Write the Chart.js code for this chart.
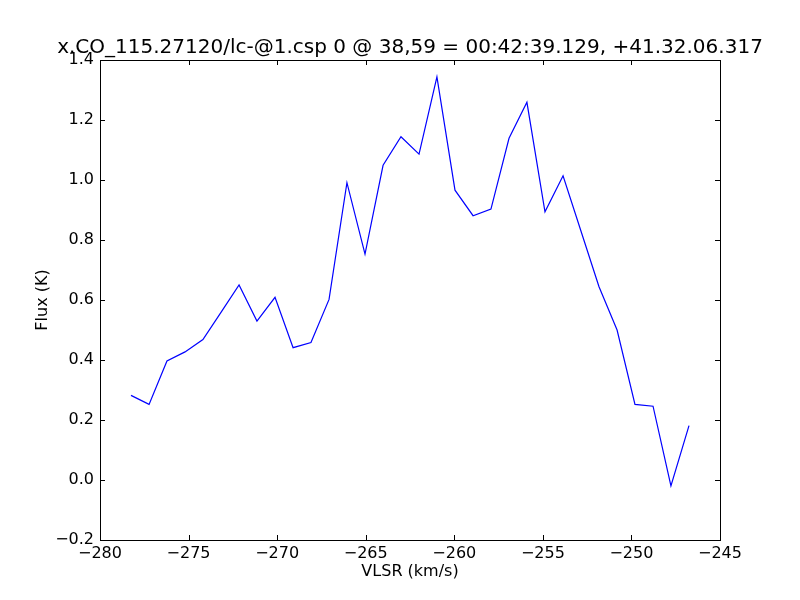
<!DOCTYPE html>
<html>
<head>
<meta charset="utf-8">
<script src="https://cdn.jsdelivr.net/npm/chart.js@4/dist/chart.umd.min.js"></script>
<style>
    html, body { margin: 0; padding: 0; background: #fff; }
    canvas { display: block; }
</style>
</head>
<body>
<canvas id="fluxChart" width="800" height="600"></canvas>
<script>
"use strict";

const chartTitle = 'x.CO_115.27120/lc-@1.csp 0 @ 38,59 = 00:42:39.129, +41.32.06.317';
const xLabel = 'VLSR (km/s)';
const yLabel = 'Flux (K)';

// velocity channels (km/s)
const velocities = [
    -278.25, -277.23, -276.22, -275.20, -274.19, -273.17, -272.15, -271.14,
    -270.12, -269.10, -268.09, -267.07, -266.06, -265.04, -264.02, -263.01,
    -261.99, -260.98, -259.96, -258.94, -257.93, -256.91, -255.90, -254.88,
    -253.86, -252.85, -251.83, -250.81, -249.80, -248.78, -247.77, -246.75
];
// flux per channel (K)
const fluxes = [
    0.282, 0.252, 0.397, 0.427, 0.468, 0.559, 0.650, 0.530,
    0.609, 0.441, 0.458, 0.602, 0.991, 0.753, 1.049, 1.144,
    1.086, 1.344, 0.966, 0.881, 0.903, 1.139, 1.259, 0.894,
    1.014, 0.830, 0.644, 0.500, 0.252, 0.246, -0.020, 0.181
];

const xTicks = [-280, -275, -270, -265, -260, -255, -250, -245];
const yTicks = [-0.2, 0.0, 0.2, 0.4, 0.6, 0.8, 1.0, 1.2, 1.4];

const fontFamily = '"DejaVu Sans", sans-serif';
const minus = (v, digits)=>{
    let s = Math.abs(v).toFixed(digits);
    return (v < -1e-9 ? '\u2212' : '') + s;
};

// frame + inward ticks on all four sides, matplotlib style; title centred over the axes
const frameTicks = {
    id: 'frameTicks',
    afterDatasetsDraw: (chart)=>{
        const ctx = chart.ctx;
        const a = chart.chartArea;
        const xs = chart.scales.x;
        const ys = chart.scales.y;
        const len = 5;
        ctx.save();
        ctx.strokeStyle = '#000';
        ctx.lineWidth = 1;
        ctx.beginPath();
        xTicks.forEach(v=>{
            let px = Math.round(xs.getPixelForValue(v)) + 0.5;
            ctx.moveTo(px, a.bottom); ctx.lineTo(px, a.bottom - len);
            ctx.moveTo(px, a.top); ctx.lineTo(px, a.top + len);
        });
        yTicks.forEach(v=>{
            let py = Math.round(ys.getPixelForValue(v)) + 0.5;
            ctx.moveTo(a.left, py); ctx.lineTo(a.left + len, py);
            ctx.moveTo(a.right, py); ctx.lineTo(a.right - len, py);
        });
        ctx.stroke();
        ctx.strokeRect(a.left + 0.5, a.top + 0.5, a.right - a.left, a.bottom - a.top);

        ctx.fillStyle = '#000';
        ctx.font = '20px ' + fontFamily;
        ctx.textAlign = 'center';
        ctx.textBaseline = 'alphabetic';
        ctx.fillText(chartTitle, (a.left + a.right) / 2, a.top - 7);
        ctx.restore();
    }
};

const ctx = document.getElementById('fluxChart').getContext('2d');
const fluxChart = new Chart(ctx, {
    type: 'line',
    data: {
        datasets: [{
            data: velocities.map((v, i)=>({x: v, y: fluxes[i]})),
            borderColor: '#0000ff',
            borderWidth: 1.2,
            pointRadius: 0,
            fill: false,
            tension: 0
        }]
    },
    options: {
        responsive: false,
        animation: false,
        layout: { padding: { left: 0, right: 80, top: 60, bottom: 0 } },
        plugins: {
            legend: { display: false },
            tooltip: { enabled: false },
            title: { display: false }
        },
        scales: {
            x: {
                type: 'linear',
                min: -280,
                max: -245,
                afterBuildTicks: (scale)=>{ scale.ticks = xTicks.map(v=>({value: v})); },
                afterFit: (scale)=>{ scale.height = 60; },
                grid: { display: false, drawTicks: false },
                border: { display: false },
                ticks: {
                    color: '#000',
                    padding: 4,
                    maxRotation: 0,
                    font: { family: fontFamily, size: 16 },
                    callback: (v)=>minus(v, 0)
                },
                title: {
                    display: true,
                    text: xLabel,
                    color: '#000',
                    font: { family: fontFamily, size: 16 },
                    padding: { top: 0, bottom: 19 }
                }
            },
            y: {
                min: -0.2,
                max: 1.4,
                afterBuildTicks: (scale)=>{ scale.ticks = yTicks.map(v=>({value: v})); },
                afterFit: (scale)=>{ scale.width = 100; },
                grid: { display: false, drawTicks: false },
                border: { display: false },
                ticks: {
                    color: '#000',
                    padding: 6,
                    font: { family: fontFamily, size: 16 },
                    callback: (v)=>minus(v, 1)
                },
                title: {
                    display: true,
                    text: yLabel,
                    color: '#000',
                    font: { family: fontFamily, size: 16 },
                    padding: { top: 33, bottom: 0 }
                }
            }
        }
    },
    plugins: [frameTicks]
});
</script>
</body>
</html>
